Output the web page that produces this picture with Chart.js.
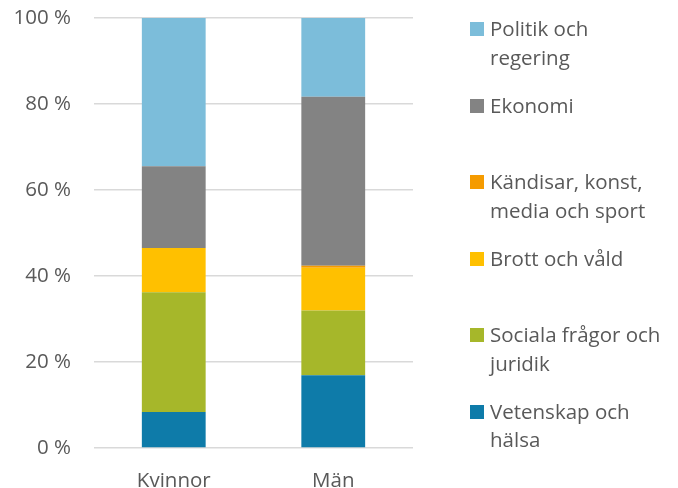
<!DOCTYPE html>
<html>
<head>
<meta charset="utf-8">
<script src="https://cdn.jsdelivr.net/npm/chart.js@4"></script>
<style>
  html, body { margin: 0; padding: 0; background: #ffffff; }
  #wrap { position: relative; width: 678px; height: 488px; }
  #legend { position: absolute; left: 470px; top: 0; width: 208px; height: 488px;
            font-family: "Open Sans", sans-serif; font-size: 20.5px; color: #595959; }
  .item { position: absolute; left: 0; display: flex; align-items: flex-start; }
  .sw { width: 14px; height: 14px; margin-top: 8px; margin-right: 6px; flex: none; }
  .txt { width: 182px; line-height: 28.5px; }
</style>
</head>
<body>
<div id="wrap">
  <canvas id="c"></canvas>
  <div id="legend"></div>
</div>
<script>
const categories = ["Kvinnor", "Män"];
const seriesNames = ["Vetenskap och hälsa", "Sociala frågor och juridik", "Brott och våld", "Kändisar, konst, media och sport", "Ekonomi", "Politik och regering"];
const seriesColors = ["#0E7BA9", "#A6B72A", "#FFC000", "#F59B00", "#838383", "#7CBDDA"];
const vetenskap = [8.4, 16.9];
const sociala = [27.8, 15.1];
const brott = [10.3, 9.9];
const kandisar = [0.0, 0.5];
const ekonomi = [19.0, 39.3];
const politik = [34.5, 18.3];
const yTicks = [0, 20, 40, 60, 80, 100];

const seriesValues = [vetenskap, sociala, brott, kandisar, ekonomi, politik];
const FONT = { family: "'Open Sans', sans-serif", size: 20.5 };

const chart = new Chart(document.getElementById('c'), {
  type: 'bar',
  data: {
    labels: categories,
    datasets: seriesNames.map((n, i) => ({
      label: n,
      data: seriesValues[i],
      backgroundColor: seriesColors[i],
      borderWidth: 0,
      categoryPercentage: 1.0,
      barPercentage: 0.4
    }))
  },
  options: {
    responsive: true,
    maintainAspectRatio: false,
    animation: false,
    layout: { padding: { top: 18, right: 265, bottom: 0, left: 0 } },
    plugins: { legend: { display: false }, tooltip: { enabled: false } },
    scales: {
      x: {
        stacked: true,
        grid: { display: false, drawTicks: false },
        border: { display: false },
        ticks: { color: '#595959', font: FONT, padding: 21 },
        afterFit: s => { s.height = 40; s.paddingLeft = 0; s.paddingRight = 0; }
      },
      y: {
        stacked: true,
        min: 0, max: 100,
        afterBuildTicks: s => { s.ticks = yTicks.map(v => ({ value: v })); },
        grid: { color: '#D9D9D9', lineWidth: 1.5, drawTicks: false },
        border: { display: false },
        ticks: { color: '#595959', font: FONT, padding: 23, callback: v => v + ' %' },
        afterFit: s => { s.width = 94; s.paddingTop = 0; s.paddingBottom = 0; }
      }
    }
  }
});

const legend = document.getElementById('legend');
for (let k = 0; k < seriesNames.length; k++) {
  const i = seriesNames.length - 1 - k;
  const item = document.createElement('div');
  item.className = 'item';
  item.style.top = (14 + k * 76.5) + 'px';
  const sw = document.createElement('div');
  sw.className = 'sw';
  sw.style.background = seriesColors[i];
  const t = document.createElement('div');
  t.className = 'txt';
  t.textContent = seriesNames[i];
  item.appendChild(sw);
  item.appendChild(t);
  legend.appendChild(item);
}
</script>
</body>
</html>
